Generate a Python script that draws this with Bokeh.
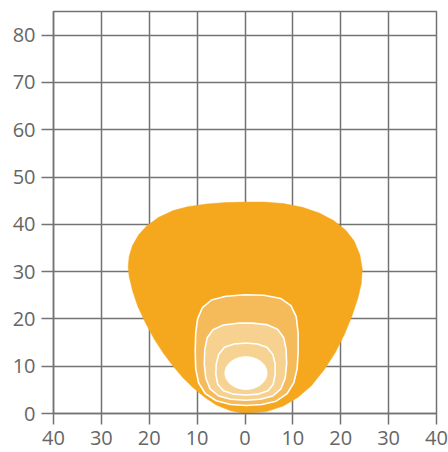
from bokeh.plotting import figure
from bokeh.models import Range1d, FixedTicker
from bokeh.embed import file_html
from bokeh.resources import INLINE

# tick values and labels
x_ticks = [-40, -30, -20, -10, 0, 10, 20, 30, 40]
x_tick_labels = ["40", "30", "20", "10", "0", "10", "20", "30", "40"]
y_ticks = [0, 10, 20, 30, 40, 50, 60, 70, 80]

# outer beam contour (lux level 1)
outer_x = [0, -3, -6, -8.5, -11, -13, -15, -17, -19, -20.8, -22.4, -23.5, -24.2, -24.4,
           -24.2, -23.5, -22.2, -20.5, -18, -15, -12, -8, -4, 0,
           4, 8, 12, 15.5, 18.5, 21, 22.8, 24, 24.5, 24.3, 23.6, 22.3, 20.8, 18.8,
           16.5, 13.8, 11, 8, 4.5]
outer_y = [0, 0.6, 1.8, 3.5, 5.6, 7.6, 10, 12.7, 15.8, 19.2, 22.7, 26, 29, 31,
           33.2, 35.5, 37.8, 39.7, 41.5, 42.9, 43.7, 44.3, 44.6, 44.7,
           44.7, 44.4, 43.6, 42.4, 40.8, 38.8, 36.5, 33.5, 30.5, 27.5, 24.5, 20.5, 16.8, 12.8,
           9.2, 5.8, 3.4, 1.6, 0.4]

# second contour
lvl2_x = [0.3, -3, -6, -8.3, -9.7, -10.3, -10.4, -10.3, -9.9, -8.9, -7, -4, 0,
          4, 7.5, 9.6, 10.7, 11.1, 11.1, 10.9, 10.2, 8.8, 6.5, 3.5]
lvl2_y = [1.7, 1.9, 2.7, 4.2, 6.5, 9.5, 13, 17, 20, 22.4, 24, 24.8, 25.1,
          25, 24.3, 22.8, 20.5, 17, 13, 9.5, 6.5, 4.2, 2.6, 1.9]

# third contour
lvl3_x = [0.2, -3, -5.5, -7.3, -8.2, -8.5, -8.4, -7.9, -6.7, -4.5, -1.5,
          1.5, 4.5, 6.8, 8.1, 8.6, 8.7, 8.4, 7.5, 5.8, 3.2]
lvl3_y = [2.8, 3.0, 3.7, 5.2, 7.5, 10.5, 13.5, 16, 17.7, 18.7, 19.1,
          19.1, 18.8, 17.8, 16, 13.5, 10.5, 7.5, 5.2, 3.7, 3.0]

# fourth contour
lvl4_x = [0.2, -2.5, -4.5, -5.7, -6.1, -6, -5.5, -4.3, -2.3, 0.2,
          2.6, 4.6, 5.8, 6.3, 6.3, 5.9, 4.8, 2.8]
lvl4_y = [3.9, 4.1, 4.8, 6.2, 8.3, 10.5, 12.5, 14, 14.7, 14.9,
          14.7, 14, 12.5, 10.5, 8.3, 6.2, 4.8, 4.1]

# innermost hot spot (ellipse)
core_x = [0.2]
core_y = [8.55]
core_w = [8.8]
core_h = [6.9]

GRID = "#737373"
TEXT = "#666666"

p = figure(width=448, height=452, output_backend="svg", toolbar_location=None,
           x_range=Range1d(-40, 40), y_range=Range1d(0, 85),
           min_border_left=53, min_border_right=12, min_border_top=11, min_border_bottom=39)
p.background_fill_color = "white"
p.border_fill_color = "white"
p.outline_line_color = GRID
p.outline_line_width = 1.5

p.xaxis.ticker = FixedTicker(ticks=x_ticks)
p.yaxis.ticker = FixedTicker(ticks=y_ticks)
p.xaxis.major_label_overrides = {t: l for t, l in zip(x_ticks, x_tick_labels)}

for ax in (p.xaxis, p.yaxis):
    ax.axis_line_color = GRID
    ax.axis_line_width = 1.5
    ax.major_tick_line_color = GRID
    ax.major_tick_line_width = 1.5
    ax.major_tick_in = 0
    ax.minor_tick_line_color = None
    ax.major_label_text_font = "Open Sans"
    ax.major_label_text_font_size = "20px"
    ax.major_label_text_color = TEXT
p.xaxis.major_tick_out = 11
p.yaxis.major_tick_out = 12
p.xaxis.major_label_standoff = 6
p.xaxis.major_label_text_line_height = 0.8
p.yaxis.major_label_standoff = 6

for g in (p.xgrid, p.ygrid):
    g.grid_line_color = GRID
    g.grid_line_width = 1.5
    g.grid_line_alpha = 1.0

p.patch(outer_x, outer_y, fill_color="#F5A81E", line_color="#F5A81E", line_width=0.5)
p.patch(lvl2_x, lvl2_y, fill_color="#F5BB5B", line_color="white", line_width=1.6)
p.patch(lvl3_x, lvl3_y, fill_color="#F6D18F", line_color="white", line_width=1.6)
p.patch(lvl4_x, lvl4_y, fill_color="#F6D393", line_color="white", line_width=1.6)
p.ellipse(x=core_x, y=core_y, width=core_w, height=core_h,
          fill_color="white", line_color="white")

open("out.html", "w").write(file_html(p, INLINE))
